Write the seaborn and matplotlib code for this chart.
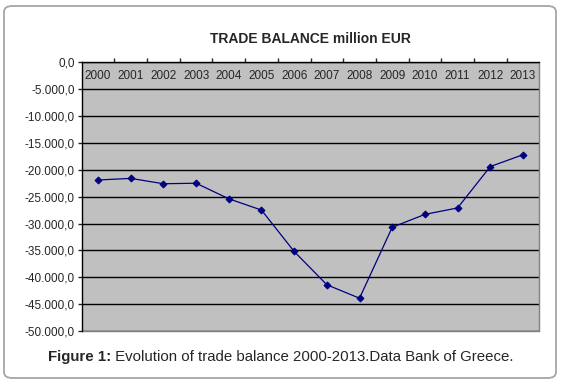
import matplotlib
matplotlib.use("Agg")
import pandas as pd
import matplotlib.pyplot as plt
import seaborn as sns
from matplotlib.patches import FancyBboxPatch
from matplotlib.ticker import FuncFormatter, FixedLocator

# ------------------ DATOS ------------------
years = ["2000", "2001", "2002", "2003", "2004", "2005", "2006",
         "2007", "2008", "2009", "2010", "2011", "2012", "2013"]
balance = [-21900, -21600, -22600, -22500, -25400, -27500, -35200,
           -41400, -43900, -30700, -28300, -27100, -19400, -17200]
y_ticks = list(range(0, -50001, -5000))

df = pd.DataFrame({"year": years, "balance": balance})

# ------------------ GRAFICO ------------------
sns.set_style("white")
plt.rcParams["font.family"] = ["Liberation Sans", "DejaVu Sans"]

fig = plt.figure(figsize=(5.62, 3.83), dpi=100)
ax = fig.add_axes([0.1454, 0.1358, 0.9596 - 0.1454, 0.8373 - 0.1358])

# marco redondeado
frame = FancyBboxPatch((4 / 562, 5 / 383), 552 / 562, 372 / 383,
                       boxstyle="round,pad=0,rounding_size=0.015",
                       transform=fig.transFigure, facecolor="white",
                       edgecolor="#a6a6a6", linewidth=1.3, zorder=-10)
fig.patches.append(frame)

ax.set_facecolor("#c0c0c0")
sns.lineplot(data=df, x="year", y="balance", ax=ax, color="#000080",
             marker="D", markersize=3.5, markeredgecolor="#000080",
             linewidth=0.9, sort=False)

ax.set_xlim(-0.5, len(years) - 0.5)
ax.set_ylim(-50000, 0)
ax.yaxis.set_major_locator(FixedLocator(y_ticks))
ax.yaxis.set_major_formatter(FuncFormatter(
    lambda v, p: f"{v:,.1f}".replace(",", "X").replace(".", ",").replace("X", ".")))
ax.grid(axis="y", color="black", linewidth=1.0)
ax.set_axisbelow(True)

# eje de categorias arriba, etiquetas dentro del area
ax.xaxis.tick_top()
ax.set_xticks(range(len(years)))
ax.set_xticklabels(years)
ax.set_xticks([i + 0.5 for i in range(len(years) - 1)], minor=True)
ax.tick_params(axis="x", which="major", length=0, pad=-14, labelsize=8.5,
               top=True, labeltop=True, bottom=False, labelbottom=False)
ax.tick_params(axis="x", which="minor", length=3, width=1, direction="out", top=True, bottom=False)
ax.tick_params(axis="y", length=3, width=1, direction="out", left=True, labelsize=8.5, pad=2)

for s in ["top", "left"]:
    ax.spines[s].set_color("black")
    ax.spines[s].set_linewidth(1.0)
ax.spines["right"].set_visible(False)
ax.spines["bottom"].set_visible(False)
ax.plot([1, 1], [0, 1], transform=ax.transAxes, color="#808080", linewidth=1.0, clip_on=False)
ax.plot([0, 1], [0, 0], transform=ax.transAxes, color="#808080", linewidth=1.0, clip_on=False)

ax.set_xlabel("")
ax.set_ylabel("")
ax.set_title("TRADE BALANCE million EUR", fontsize=10, fontweight="bold", pad=14)

# leyenda de la figura (parte en negrita + resto, centrado en conjunto)
cap_y = 26 / 383
t1 = fig.text(0, cap_y, "Figure 1:", fontsize=10.8, fontweight="bold", ha="left", va="center")
t2 = fig.text(0, cap_y, " Evolution of trade balance 2000-2013.Data Bank of Greece.",
              fontsize=10.8, ha="left", va="center")
fig.canvas.draw()
r = fig.canvas.get_renderer()
w1 = t1.get_window_extent(r).width / fig.bbox.width
w2 = t2.get_window_extent(r).width / fig.bbox.width
x0 = 0.5 - (w1 + w2) / 2
t1.set_x(x0)
t2.set_x(x0 + w1)

plt.savefig("out.png", dpi=100)
plt.close()
